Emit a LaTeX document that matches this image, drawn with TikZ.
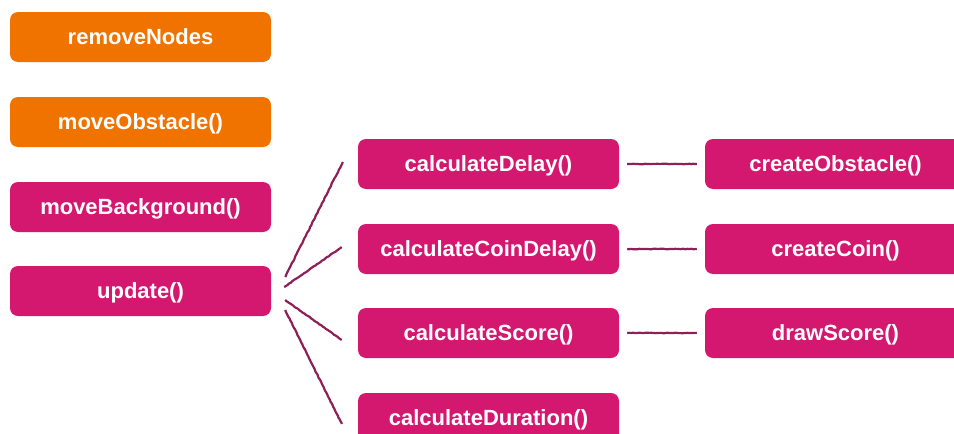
\documentclass[tikz,border=0pt]{standalone}
\usepackage{fontspec}
\setmainfont{Liberation Sans}
\usepackage{tikz}
\usetikzlibrary{decorations.pathmorphing}

\definecolor{callorange}{HTML}{F07300}
\definecolor{callpink}{HTML}{D5186F}
\definecolor{callline}{HTML}{8E1F57}

\begin{document}
\begin{tikzpicture}[x=1pt,y=-1pt]
\useasboundingbox (0,0) rectangle (954,434);
\clip (0,0) rectangle (954,434);

\tikzstyle{callbox}=[rounded corners=8pt,minimum width=261pt,minimum height=50pt,inner sep=0pt,text=white,font=\bfseries\fontsize{22}{24}\selectfont,text depth=-2pt]
\tikzstyle{orangebox}=[callbox,fill=callorange]
\tikzstyle{pinkbox}=[callbox,fill=callpink]
\tikzstyle{link}=[callline,line width=2.2pt,decoration={random steps,segment length=2pt,amplitude=0.3pt},decorate]

\draw (140.5,37) node[orangebox] (removeNodes) {removeNodes};
\draw (140.5,122) node[orangebox] (moveObstacle) {moveObstacle()};
\draw (140.5,207) node[pinkbox] (moveBackground) {moveBackground()};
\draw (140.5,291) node[pinkbox] (update) {update()};

\draw (488.5,164) node[pinkbox] (calcDelay) {calculateDelay()};
\draw (488.5,249) node[pinkbox] (calcCoinDelay) {calculateCoinDelay()};
\draw (488.5,333) node[pinkbox] (calcScore) {calculateScore()};
\draw (488.5,418) node[pinkbox] (calcDuration) {calculateDuration()};

\draw (835.5,164) node[pinkbox] (createObstacle) {createObstacle()};
\draw (835.5,249) node[pinkbox] (createCoin) {createCoin()};
\draw (835.5,333) node[pinkbox] (drawScore) {drawScore()};

\draw[link] ([xshift=14pt,yshift=14pt]update.east) -- ([xshift=-15pt,yshift=2pt]calcDelay.west);
\draw[link] ([xshift=13pt,yshift=4pt]update.east) -- ([xshift=-16pt,yshift=2pt]calcCoinDelay.west);
\draw[link] ([xshift=14pt,yshift=-9pt]update.east) -- ([xshift=-16pt,yshift=-7pt]calcScore.west);
\draw[link] ([xshift=14pt,yshift=-19pt]update.east) -- ([xshift=-16pt,yshift=-6pt]calcDuration.west);

\draw[link] ([xshift=8pt]calcDelay.east) -- ([xshift=-8pt]createObstacle.west);
\draw[link] ([xshift=8pt]calcCoinDelay.east) -- ([xshift=-8pt]createCoin.west);
\draw[link] ([xshift=8pt]calcScore.east) -- ([xshift=-8pt]drawScore.west);
\end{tikzpicture}
\end{document}
